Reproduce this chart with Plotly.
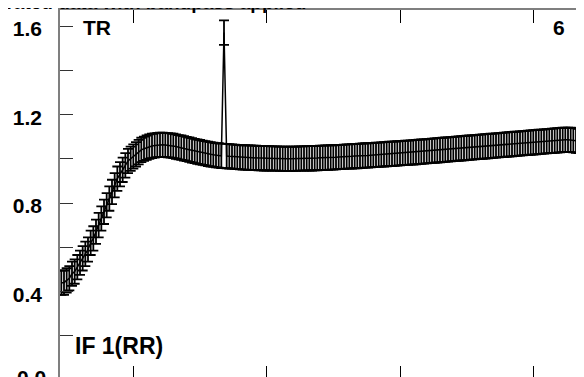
import plotly.graph_objects as go

# ---- data ----
channels = list(range(23, 220))
amplitude = [
    0.44, 0.44, 0.45, 0.46, 0.48, 0.49, 0.51, 0.53, 0.55, 0.57,   # 23-32
    0.59, 0.62, 0.64, 0.67, 0.70, 0.73, 0.76, 0.79, 0.82, 0.85,   # 33-42
    0.88, 0.91, 0.93, 0.95, 0.97, 0.99, 1.00, 1.01, 1.02, 1.03,   # 43-52
    1.04, 1.045, 1.05, 1.055, 1.058, 1.06, 1.062, 1.063, 1.063, 1.062,  # 53-62
    1.061, 1.06, 1.058, 1.055, 1.052, 1.05, 1.047, 1.044, 1.041, 1.038,  # 63-72
    1.035, 1.032, 1.03, 1.027, 1.025, 1.022, 1.02, 1.018, 1.016, 1.015,  # 73-82
    1.013, 1.57, 1.012, 1.011, 1.01, 1.009, 1.008, 1.007, 1.006, 1.006,  # 83-92
    1.005, 1.005, 1.004, 1.004, 1.003, 1.003, 1.002, 1.002, 1.002, 1.001,  # 93-102
    1.001, 1.001, 1.0, 1.0, 1.0, 1.0, 1.0, 1.0, 1.0, 1.001,  # 103-112
    1.001, 1.001, 1.002, 1.002, 1.002, 1.003, 1.003, 1.004, 1.004, 1.005,  # 113-122
    1.005, 1.006, 1.006, 1.007, 1.008, 1.008, 1.009, 1.01, 1.01, 1.011,  # 123-132
    1.012, 1.012, 1.013, 1.014, 1.015, 1.015, 1.016, 1.017, 1.018, 1.018,  # 133-142
    1.019, 1.02, 1.021, 1.022, 1.022, 1.023, 1.024, 1.025, 1.026, 1.027,  # 143-152
    1.027, 1.028, 1.029, 1.03, 1.031, 1.032, 1.033, 1.034, 1.035, 1.036,  # 153-162
    1.037, 1.038, 1.039, 1.04, 1.041, 1.042, 1.043, 1.044, 1.045, 1.046,  # 163-172
    1.047, 1.048, 1.049, 1.05, 1.051, 1.052, 1.053, 1.054, 1.055, 1.056,  # 173-182
    1.057, 1.058, 1.059, 1.06, 1.061, 1.062, 1.063, 1.064, 1.065, 1.066,  # 183-192
    1.067, 1.068, 1.069, 1.07, 1.071, 1.072, 1.073, 1.074, 1.075, 1.076,  # 193-202
    1.077, 1.078, 1.079, 1.08, 1.081, 1.082, 1.083, 1.084, 1.085, 1.086,  # 203-212
    1.086, 1.085, 1.084, 1.082, 1.08, 1.078, 1.07,                        # 213-219
]
amp_error = [0.055] * len(amplitude)

x_tick_values = [50, 100, 150, 200]
y_tick_values = [0.2, 0.4, 0.6, 0.8, 1.0, 1.2, 1.4, 1.6]
y_tick_labels = ["", "0.4", "", "0.8", "", "1.2", "", "1.6"]

title_text = "Calibrated data with bandpass applied"
source_label = "TR"
baseline_label = "6"
if_label = "IF 1(RR)"

# ---- figure ----
# the page body adds an 8 px offset; layout numbers below are figure pixels
W, H = 584, 377
ML, MR, MT, MB = 52, 6, 2, 4
FONT = "Liberation Sans"


def px_to_paper_x(px):
    return (px - ML) / (W - ML - MR)


def px_to_paper_y(py):
    return (H - MB - py) / (H - MT - MB)


fig = go.Figure()
fig.add_trace(go.Scatter(
    x=channels, y=amplitude,
    mode="lines",
    line=dict(color="black", width=1.5),
    error_y=dict(type="data", array=amp_error, visible=True,
                 color="black", thickness=1.8, width=5),
    showlegend=False, hoverinfo="skip",
))
# helper trace so the mirrored (bottom/right) tick axes are drawn
fig.add_trace(go.Scatter(x=[None], y=[None], xaxis="x2", yaxis="y2",
                         showlegend=False, hoverinfo="skip"))

axis_grey = "#7f7f7f"
tick_font = dict(family=FONT, size=21, color="black", weight="bold")

fig.update_layout(
    width=W, height=H,
    margin=dict(l=ML, r=MR, t=MT, b=MB, pad=0, autoexpand=False),
    paper_bgcolor="white", plot_bgcolor="white",
    showlegend=False,
    xaxis=dict(range=[22.5, 219.75], side="top", showline=True, linecolor=axis_grey,
               linewidth=1.5, ticks="inside", ticklen=13, tickwidth=1.2,
               tickcolor="black", tickvals=x_tick_values, showticklabels=False,
               showgrid=False, zeroline=False, automargin=False),
    xaxis2=dict(overlaying="x", matches="x", side="bottom", showline=False,
                ticks="inside", ticklen=15, tickwidth=1.2, tickcolor="black",
                tickvals=x_tick_values, showticklabels=False, showgrid=False,
                zeroline=False, automargin=False),
    yaxis=dict(range=[-0.0045, 1.6723], showline=True, linecolor=axis_grey,
               linewidth=1.5, ticks="inside", ticklen=13, tickwidth=1.2,
               tickcolor="#333333", tickvals=y_tick_values, ticktext=y_tick_labels,
               tickfont=tick_font, ticklabelstandoff=12, ticklabelshift=3,
               showgrid=False, zeroline=False, automargin=False),
    yaxis2=dict(overlaying="y", matches="y", side="right", showline=False,
                ticks="inside", ticklen=8, tickwidth=1.2, tickcolor="#333333",
                tickvals=y_tick_values, showticklabels=False, showgrid=False,
                zeroline=False, automargin=False),
)

label_font = dict(family=FONT, size=21, color="black", weight="bold")
if_font = dict(family=FONT, size=23, color="black", weight="bold")
title_font = dict(family=FONT, size=19, color="black", weight="bold")
annotations = [
    dict(text="0.0", xref="paper", yref="y", x=0, y=0.0, xanchor="right",
         yanchor="middle", xshift=-12, yshift=3, showarrow=False, font=tick_font),
    dict(text=source_label, xref="paper", yref="paper",
         x=px_to_paper_x(73), y=px_to_paper_y(20), xanchor="left",
         yanchor="middle", showarrow=False, font=label_font),
    dict(text=baseline_label, xref="paper", yref="paper",
         x=px_to_paper_x(559), y=px_to_paper_y(20), xanchor="right",
         yanchor="middle", showarrow=False, font=label_font),
    dict(text=if_label, xref="paper", yref="paper",
         x=px_to_paper_x(65), y=px_to_paper_y(338), xanchor="left",
         yanchor="middle", showarrow=False, font=if_font),
    dict(text=title_text, xref="paper", yref="paper",
         x=px_to_paper_x(300), y=px_to_paper_y(7), xanchor="right",
         yanchor="bottom", showarrow=False, font=title_font),
]
fig.update_layout(annotations=annotations)

fig.write_html("out.html")
